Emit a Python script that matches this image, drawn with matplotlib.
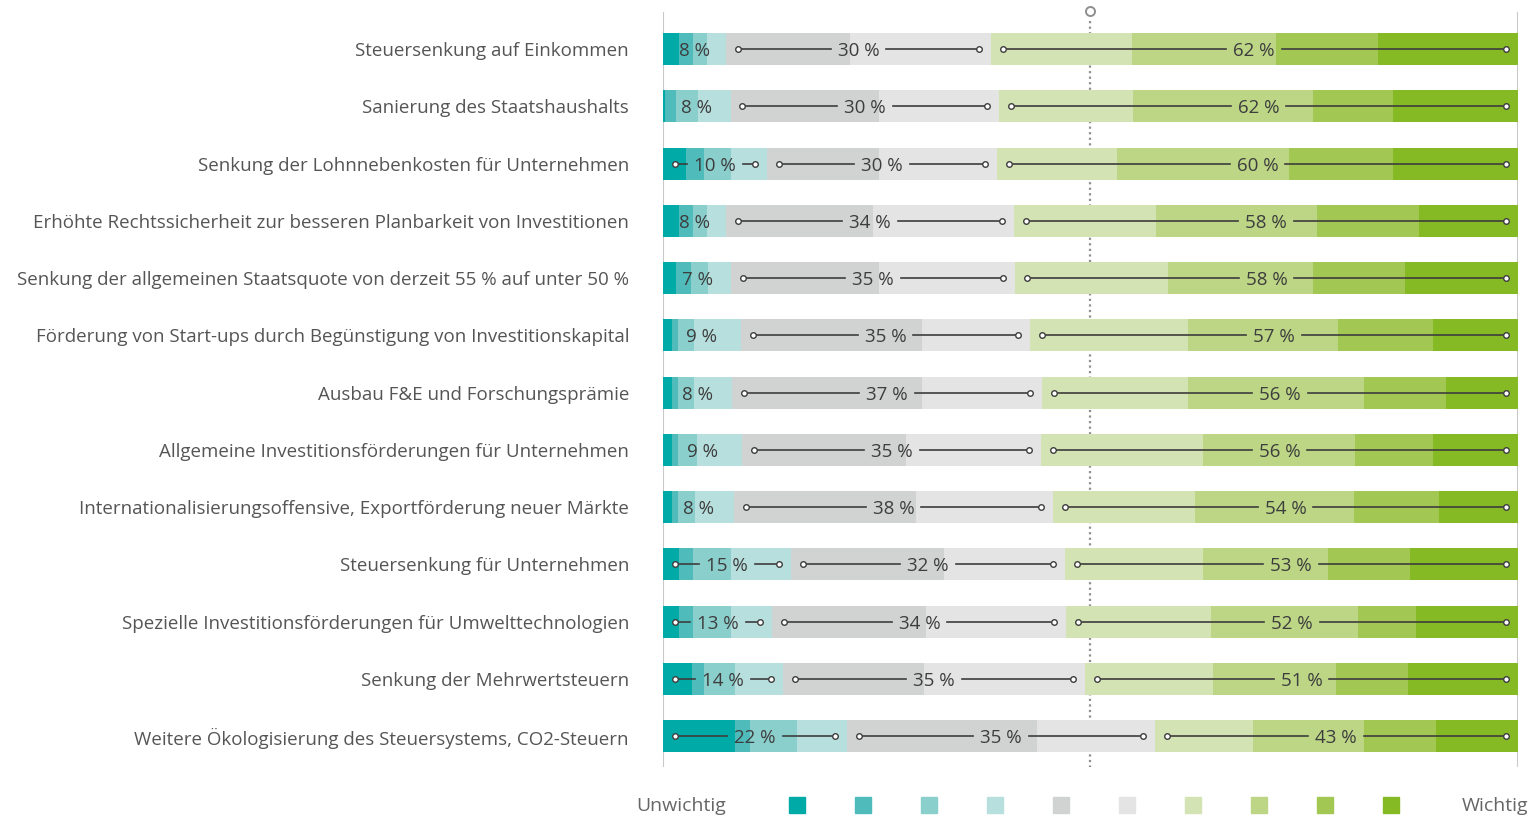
import numpy as np
import matplotlib.pyplot as plt
from matplotlib.patches import Rectangle

plt.rcParams['font.family'] = ['Open Sans', 'DejaVu Sans']

categories = [
    "Steuersenkung auf Einkommen",
    "Sanierung des Staatshaushalts",
    "Senkung der Lohnnebenkosten für Unternehmen",
    "Erhöhte Rechtssicherheit zur besseren Planbarkeit von Investitionen",
    "Senkung der allgemeinen Staatsquote von derzeit 55 % auf unter 50 %",
    "Förderung von Start-ups durch Begünstigung von Investitionskapital",
    "Ausbau F&E und Forschungsprämie",
    "Allgemeine Investitionsförderungen für Unternehmen",
    "Internationalisierungsoffensive, Exportförderung neuer Märkte",
    "Steuersenkung für Unternehmen",
    "Spezielle Investitionsförderungen für Umwelttechnologien",
    "Senkung der Mehrwertsteuern",
    "Weitere Ökologisierung des Steuersystems, CO2-Steuern",
]

# Anteile je Stufe (1 = unwichtig ... 10 = wichtig), in %
u1 = [1.9, 0.2, 2.7, 1.9, 1.5, 1.1, 1.1, 1.1, 1.1, 1.9, 1.9, 3.4, 8.4]
u2 = [1.6, 1.3, 2.1, 1.6, 1.8, 0.6, 0.6, 0.7, 0.7, 1.6, 1.6, 1.4, 1.8]
u3 = [1.6, 2.6, 3.2, 1.6, 2.0, 1.9, 1.9, 2.2, 2.0, 4.5, 4.5, 3.6, 5.5]
u4 = [2.3, 3.8, 4.2, 2.3, 2.7, 5.5, 4.5, 5.3, 4.5, 7.0, 4.8, 5.6, 5.9]
n1 = [14.4, 17.4, 13.1, 17.2, 17.3, 21.2, 22.2, 19.2, 21.3, 17.9, 18.0, 16.5, 22.2]
n2 = [16.5, 14.0, 13.8, 16.4, 15.9, 12.7, 14.1, 15.8, 16.1, 14.1, 16.4, 18.9, 13.8]
w1 = [16.5, 15.7, 14.0, 16.6, 17.9, 18.5, 17.1, 19.0, 16.6, 16.2, 16.9, 15.0, 11.5]
w2 = [16.9, 21.1, 20.1, 18.8, 17.0, 17.6, 20.6, 17.7, 18.6, 14.6, 17.2, 14.3, 13.0]
w3 = [11.9, 9.3, 12.2, 12.0, 10.7, 11.1, 9.6, 9.2, 10.0, 9.6, 6.8, 8.5, 8.4]
w4 = [16.3, 14.6, 14.6, 11.5, 13.2, 9.9, 8.4, 9.9, 9.2, 12.6, 11.9, 12.8, 9.6]

# beschriftete Summen je Gruppe
pct_unwichtig = [8, 8, 10, 8, 7, 9, 8, 9, 8, 15, 13, 14, 22]
pct_neutral = [30, 30, 30, 34, 35, 35, 37, 35, 38, 32, 34, 35, 35]
pct_wichtig = [62, 62, 60, 58, 58, 57, 56, 56, 54, 53, 52, 51, 43]

colors = ["#00aba7", "#4fbcbb", "#8bcfcd", "#b7dfdd", "#d1d3d2",
          "#e3e4e3", "#d4e3b3", "#bdd686", "#a3c753", "#86ba24"]

data = np.array([u1, u2, u3, u4, n1, n2, w1, w2, w3, w4]).T
data = data / data.sum(axis=1, keepdims=True) * 100
y = np.arange(len(categories))

W, H = 1533, 819
fig = plt.figure(figsize=(W / 100, H / 100), dpi=100)
ax = fig.add_axes([663 / W, (H - 767) / H, 854.7 / W, 755 / H])

left = np.zeros(len(categories))
for k in range(10):
    ax.barh(y, data[:, k], left=left, height=0.56, color=colors[k], zorder=2)
    left += data[:, k]

ax.set_xlim(0, 100)
ax.set_ylim(12.54, -0.65)
ax.axis('off')
ax.axvline(0, color="#c8c8c8", lw=1.5, zorder=1)
ax.axvline(100, color="#c8c8c8", lw=1.5, zorder=1)
ax.plot([50, 50], [-0.5, 12.54], color="#8f8f8f", lw=1.6,
        linestyle=(0, (1, 1.5)), zorder=1, clip_on=False)
ax.plot([50], [-0.67], marker='o', ms=6.5, mfc='white', mec="#8f8f8f",
        mew=1.4, zorder=3, clip_on=False)

for i, cat in enumerate(categories):
    ax.text(-34 / 8.547, i, cat, ha='right', va='center_baseline', fontsize=13.5,
            color="#555555")

fig.canvas.draw()
renderer = fig.canvas.get_renderer()
px = 854.7 / 100  # Pixel je Prozentpunkt
pad = 1.4
gap = 7 / px

for i in range(len(categories)):
    row = data[i]
    groups = [(0, row[:4].sum(), pct_unwichtig[i]),
              (row[:4].sum(), row[:6].sum(), pct_neutral[i]),
              (row[:6].sum(), 100, pct_wichtig[i])]
    for g0, g1, val in groups:
        xc = (g0 + g1) / 2
        t = ax.text(xc, i, f"{val} %", ha='center', va='center_baseline', fontsize=13.5,
                    color="#3d3d3d", zorder=5)
        bb = t.get_window_extent(renderer)
        tw = bb.width / px
        a, b = g0 + pad, g1 - pad
        l_end = xc - tw / 2 - gap
        r_start = xc + tw / 2 + gap
        if l_end - a > 8 / px and b - r_start > 8 / px:
            ax.plot([a, l_end], [i, i], color="#3d3d3d", lw=1.2, zorder=4)
            ax.plot([r_start, b], [i, i], color="#3d3d3d", lw=1.2, zorder=4)
            ax.plot([a, b], [i, i], ls='none', marker='o', ms=4.0, mfc='white',
                    mec="#3d3d3d", mew=1.0, zorder=4)

# Legende
leg = fig.add_axes([0, 0, 1, 50 / H])
leg.set_xlim(0, W)
leg.set_ylim(0, 50)
leg.axis('off')
for k in range(10):
    cx = 797 + 66 * k
    leg.add_patch(Rectangle((cx - 8, 6), 16, 16, color=colors[k]))
leg.text(636, 13, "Unwichtig", ha='left', va='center', fontsize=14, color="#666666")
leg.text(1528, 13, "Wichtig", ha='right', va='center', fontsize=14, color="#666666")

fig.savefig("out.png", dpi=100)
